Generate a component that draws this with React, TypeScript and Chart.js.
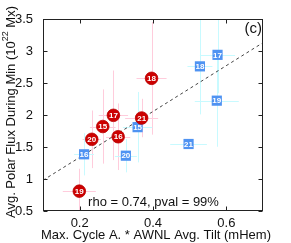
import React, { useEffect, useRef } from 'react';
import { Chart, registerables } from 'chart.js';
Chart.register(...registerables);

const xTicks = [0.2, 0.4, 0.6];
const yTicks = [0.5, 1, 1.5, 2, 2.5, 3, 3.5];

const redLabels = ['19', '20', '15', '17', '16', '21', '18'];
const redX = [0.199, 0.233, 0.263, 0.292, 0.305, 0.369, 0.396];
const redY = [0.81, 1.62, 1.82, 1.995, 1.66, 1.953, 2.573];
const redXErr = [0.045, 0.025, 0.035, 0.04, 0.033, 0.045, 0.041];
const redYErr = [0.35, 0.45, 0.58, 0.7, 0.52, 0.3, 0.88];

const blueLabels = ['16', '20', '15', '21', '18', '19', '17'];
const blueX = [0.212, 0.326, 0.358, 0.497, 0.528, 0.574, 0.576];
const blueY = [1.386, 1.364, 1.81, 1.547, 2.76, 2.224, 2.94];
const blueXErr = [0.027, 0.03, 0.04, 0.05, 0.034, 0.06, 0.048];
const blueYErr = [0.33, 0.26, 0.55, 0.05, 0.75, 0.72, 0.6];

const fitX = [0.1, 0.7];
const fitY = [0.98, 3.13];

const FONT = '"Liberation Sans", Arial, Helvetica, sans-serif';

const errSets = [
  { x: redX, y: redY, ex: redXErr, ey: redYErr, color: 'rgb(255,204,220)' },
  { x: blueX, y: blueY, ex: blueXErr, ey: blueYErr, color: 'rgb(200,250,255)' },
];

const errorBarPlugin = {
  id: 'errorBars',
  beforeDatasetsDraw(chart: any) {
    const { ctx, chartArea: a, scales } = chart;
    const xs = scales.x, ys = scales.y;
    ctx.save();
    ctx.beginPath();
    ctx.rect(a.left, a.top, a.right - a.left, a.bottom - a.top);
    ctx.clip();
    ctx.lineWidth = 1;
    for (const s of errSets) {
      ctx.strokeStyle = s.color;
      for (let i = 0; i < s.x.length; i++) {
        const px = Math.round(xs.getPixelForValue(s.x[i])) + 0.5;
        const py = Math.round(ys.getPixelForValue(s.y[i])) + 0.5;
        ctx.beginPath();
        ctx.moveTo(xs.getPixelForValue(s.x[i] - s.ex[i]), py);
        ctx.lineTo(xs.getPixelForValue(s.x[i] + s.ex[i]), py);
        ctx.moveTo(px, ys.getPixelForValue(s.y[i] - s.ey[i]));
        ctx.lineTo(px, ys.getPixelForValue(s.y[i] + s.ey[i]));
        ctx.stroke();
      }
    }
    ctx.restore();
  },
};

const labelPlugin = {
  id: 'pointLabels',
  afterDatasetsDraw(chart: any) {
    const { ctx } = chart;
    ctx.save();
    ctx.fillStyle = '#ffffff';
    ctx.textAlign = 'center';
    ctx.textBaseline = 'middle';
    ctx.font = `bold 8px ${FONT}`;
    const lists = [redLabels, blueLabels];
    lists.forEach((labels, di) => {
      const meta = chart.getDatasetMeta(di);
      meta.data.forEach((el: any, i: number) => {
        ctx.fillText(labels[i], el.x, el.y + 0.5);
      });
    });
    ctx.restore();
  },
};

const framePlugin = {
  id: 'frame',
  afterDraw(chart: any) {
    const { ctx, chartArea: a, scales } = chart;
    const xs = scales.x, ys = scales.y;
    ctx.save();
    ctx.strokeStyle = '#222';
    ctx.lineWidth = 1;
    const L = Math.round(a.left) + 0.5, R = Math.round(a.right) - 0.5;
    const T = Math.round(a.top) + 0.5, B = Math.round(a.bottom) - 0.5;
    ctx.strokeRect(L, T, R - L, B - T);
    const tl = 4;
    ctx.beginPath();
    for (const v of xTicks) {
      const px = Math.round(xs.getPixelForValue(v)) + 0.5;
      ctx.moveTo(px, B); ctx.lineTo(px, B - tl);
      ctx.moveTo(px, T); ctx.lineTo(px, T + tl);
    }
    for (const v of yTicks) {
      const py = Math.round(ys.getPixelForValue(v)) + 0.5;
      ctx.moveTo(L, py); ctx.lineTo(L + tl, py);
      ctx.moveTo(R, py); ctx.lineTo(R - tl, py);
    }
    ctx.stroke();

    ctx.fillStyle = '#111';
    // x title
    ctx.font = `13px ${FONT}`;
    ctx.textAlign = 'center';
    ctx.textBaseline = 'middle';
    ctx.fillText('Max. Cycle A. * AWNL Avg. Tilt (mHem)', 156, 235);

    // y title with superscript
    ctx.save();
    ctx.translate(11, 112);
    ctx.rotate(-Math.PI / 2);
    const p1 = 'Avg. Polar Flux During Min (10';
    const sup = '22';
    const p2 = ' Mx)';
    ctx.font = `13px ${FONT}`;
    const w1 = ctx.measureText(p1).width;
    const w3 = ctx.measureText(p2).width;
    ctx.font = `9px ${FONT}`;
    const w2 = ctx.measureText(sup).width;
    const total = w1 + w2 + w3;
    let x0 = -total / 2;
    ctx.textAlign = 'left';
    ctx.font = `13px ${FONT}`;
    ctx.fillText(p1, x0, 0);
    ctx.font = `9px ${FONT}`;
    ctx.fillText(sup, x0 + w1, -5);
    ctx.font = `13px ${FONT}`;
    ctx.fillText(p2, x0 + w1 + w2, 0);
    ctx.restore();

    // annotations
    ctx.font = `13px ${FONT}`;
    ctx.textAlign = 'center';
    ctx.fillText('rho = 0.74, pval = 99%', 153.5, 202);
    ctx.font = `15px ${FONT}`;
    ctx.textAlign = 'right';
    ctx.fillText('(c)', 262, 29);
    ctx.restore();
  },
};

export default function App() {
  const ref = useRef<HTMLCanvasElement>(null);
  useEffect(() => {
    if (!ref.current) return;
    const chart = new Chart(ref.current, {
      type: 'scatter',
      data: {
        datasets: [
          {
            label: 'red',
            data: redX.map((x, i) => ({ x, y: redY[i] })),
            pointStyle: 'circle',
            pointRadius: 6.3,
            backgroundColor: '#cc0000',
            borderColor: '#b80000',
            borderWidth: 0.8,
          },
          {
            label: 'blue',
            data: blueX.map((x, i) => ({ x, y: blueY[i] })),
            pointStyle: 'rect',
            pointRadius: 7.2,
            backgroundColor: '#4f93f2',
            borderColor: '#4f93f2',
            borderWidth: 0,
          },
          {
            label: 'fit',
            type: 'line',
            data: fitX.map((x, i) => ({ x, y: fitY[i] })),
            showLine: true,
            pointRadius: 0,
            borderColor: '#444',
            borderWidth: 1,
            borderDash: [3, 3],
            fill: false,
          } as any,
        ],
      },
      options: {
        animation: false,
        responsive: false,
        maintainAspectRatio: false,
        layout: { padding: { top: 19, right: 28, left: 0, bottom: 0 } },
        plugins: { legend: { display: false }, tooltip: { enabled: false } },
        scales: {
          x: {
            type: 'linear',
            min: 0.1,
            max: 0.7,
            grid: { display: false },
            border: { display: false },
            afterFit: (s: any) => { s.height = 32; },
            afterBuildTicks: (s: any) => { s.ticks = xTicks.map((v) => ({ value: v })); },
            ticks: {
              color: '#111',
              font: { family: FONT, size: 13 },
              padding: -3,
              maxRotation: 0,
              callback: (v: any) => String(Number(v)),
            },
          },
          y: {
            type: 'linear',
            min: 0.5,
            max: 3.5,
            grid: { display: false },
            border: { display: false },
            afterFit: (s: any) => { s.width = 43; },
            afterBuildTicks: (s: any) => { s.ticks = yTicks.map((v) => ({ value: v })); },
            ticks: {
              color: '#111',
              font: { family: FONT, size: 13 },
              padding: 2,
              callback: (v: any) => String(Number(v)),
            },
          },
        },
      },
      plugins: [errorBarPlugin, labelPlugin, framePlugin],
    });
    return () => chart.destroy();
  }, []);
  return (
    <div style={{ position: 'fixed', left: 0, top: 0, width: 291, height: 243, background: '#fff' }}>
      <canvas ref={ref} width={291} height={243} style={{ display: 'block' }} />
    </div>
  );
}
